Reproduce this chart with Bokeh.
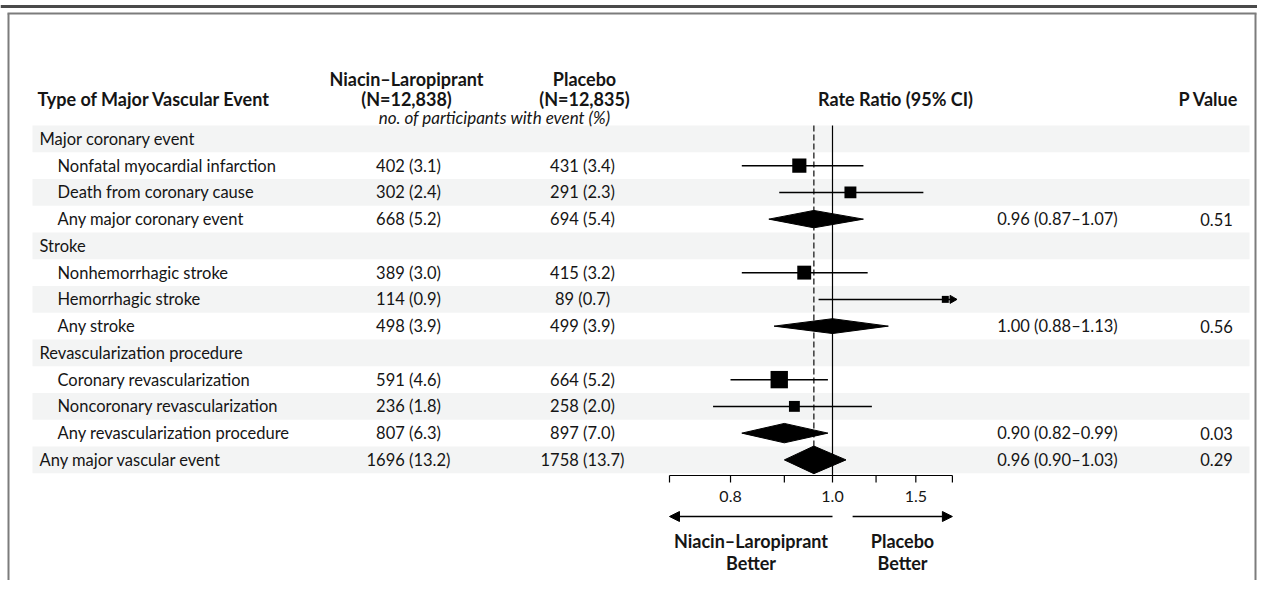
import math
from bokeh.plotting import figure
from bokeh.models import Range1d, LogScale, Arrow, NormalHead
from bokeh.core.properties import value
from bokeh.embed import file_html
from bokeh.resources import INLINE

# ---------------- data ----------------
labels = ["Major coronary event", "Nonfatal myocardial infarction", "Death from coronary cause",
          "Any major coronary event", "Stroke", "Nonhemorrhagic stroke", "Hemorrhagic stroke",
          "Any stroke", "Revascularization procedure", "Coronary revascularization",
          "Noncoronary revascularization", "Any revascularization procedure", "Any major vascular event"]
indent = [0, 1, 1, 1, 0, 1, 1, 1, 0, 1, 1, 1, 0]
niacin_n = [None, 402, 302, 668, None, 389, 114, 498, None, 591, 236, 807, 1696]
niacin_pct = [None, 3.1, 2.4, 5.2, None, 3.0, 0.9, 3.9, None, 4.6, 1.8, 6.3, 13.2]
placebo_n = [None, 431, 291, 694, None, 415, 89, 499, None, 664, 258, 897, 1758]
placebo_pct = [None, 3.4, 2.3, 5.4, None, 3.2, 0.7, 3.9, None, 5.2, 2.0, 7.0, 13.7]
rate_ratio = [None, 0.93, 1.04, 0.96, None, 0.94, 1.28, 1.00, None, 0.89, 0.92, 0.90, 0.96]
ci_low = [None, 0.82, 0.89, 0.87, None, 0.82, 0.97, 0.88, None, 0.80, 0.77, 0.82, 0.90]
ci_high = [None, 1.07, 1.22, 1.07, None, 1.08, 1.69, 1.13, None, 0.99, 1.09, 0.99, 1.03]
is_summary = [False, False, False, True, False, False, False, True, False, False, False, True, True]
p_values = ["", "", "", "0.51", "", "", "", "0.56", "", "", "", "0.03", "0.29"]
overall_rr = 0.96
axis_ticks = [0.7, 0.8, 0.9, 1.0, 1.1, 1.2, 1.3]
axis_tick_labels = ["", "0.8", "", "1.0", "", "1.5", ""]
col_headers = ["Niacin\u2013Laropiprant", "Placebo"]
col_n = ["(N=12,838)", "(N=12,835)"]

# ---------------- layout constants (screen pixels) ----------------
W, H = 1257, 580
ROW_TOP, ROW_H = 125, 26.75
ONE_X, PX_PER_LN = 832, 457.0
FONT = "Lato"
FS = "16.5px"
FSB = "18px"
INK = "#151515"

p = figure(width=W, height=H, x_range=Range1d(0, W), y_range=Range1d(H, 0),
           output_backend="svg", toolbar_location=None, min_border=0,
           x_axis_location=None, y_axis_location=None)
p.grid.visible = False
p.outline_line_color = None
p.background_fill_color = "white"
p.extra_x_ranges = {"rr": Range1d(start=math.exp((0 - ONE_X) / PX_PER_LN),
                                  end=math.exp((W - ONE_X) / PX_PER_LN))}
p.extra_x_scales = {"rr": LogScale()}

n = len(labels)
yc = [ROW_TOP + (i + 0.5) * ROW_H for i in range(n)]

# frame decorations
p.segment(x0=[0], y0=[6], x1=[W], y1=[6], line_color="#4a4a4a", line_width=3)
p.segment(x0=[8, 7, W - 2], y0=[13, 13, 13], x1=[8, W - 1, W - 2], y1=[H, 13, H],
          line_color="#7c7c7c", line_width=2)

# stripes
ev = [i for i in range(n) if i % 2 == 0]
p.quad(left=32, right=1249, top=[ROW_TOP + i * ROW_H for i in ev],
       bottom=[ROW_TOP + (i + 1) * ROW_H for i in ev], fill_color="#f3f4f4", line_color=None)

# reference lines
p.segment(x0=[1.0], x1=[1.0], y0=[ROW_TOP], y1=[475], line_color="black", line_width=1.2,
          x_range_name="rr")
p.segment(x0=[overall_rr], x1=[overall_rr], y0=[ROW_TOP], y1=[ROW_TOP + n * ROW_H],
          line_color="#3a3a3a", line_width=1.5, line_dash="6 3", x_range_name="rr")

# CIs and boxes (CIs beyond the axis end are clipped and get an arrow head)
ax_max = max(axis_ticks)
ax_min = min(axis_ticks)
bi = [i for i in range(n) if rate_ratio[i] is not None and not is_summary[i]]
p.segment(x0=[ci_low[i] for i in bi], x1=[min(ci_high[i], ax_max) for i in bi],
          y0=[yc[i] for i in bi], y1=[yc[i] for i in bi], line_color="black", line_width=1.5,
          x_range_name="rr")
p.scatter(x=[rate_ratio[i] for i in bi], y=[yc[i] for i in bi], marker="square",
          size=[0.49 * math.sqrt(niacin_n[i] + placebo_n[i]) for i in bi],
          fill_color="black", line_color=None, x_range_name="rr")
clipped = [i for i in bi if ci_high[i] > ax_max]
p.scatter(x=[ax_max] * len(clipped), y=[yc[i] for i in clipped], marker="triangle",
          angle=-math.pi / 2, size=8, fill_color="black", line_color="black", x_range_name="rr")

# diamonds
di = [i for i in range(n) if is_summary[i]]
xs, ys = [], []
for i in di:
    h = 0.47 * math.sqrt(niacin_n[i] + placebo_n[i])
    xs.append([ci_low[i], rate_ratio[i], ci_high[i], rate_ratio[i]])
    ys.append([yc[i], yc[i] - h / 2, yc[i], yc[i] + h / 2])
p.patches(xs=xs, ys=ys, fill_color="black", line_color="black", x_range_name="rr")

# axis
p.segment(x0=[ax_min], x1=[ax_max], y0=[475], y1=[475], line_color="black", line_width=1.2,
          x_range_name="rr")
p.segment(x0=axis_ticks, x1=axis_ticks, y0=[475] * len(axis_ticks), y1=[482] * len(axis_ticks),
          line_color="black", line_width=1.2, x_range_name="rr")
p.text(x=axis_ticks, y=[496] * len(axis_ticks), text=axis_tick_labels, text_align="center",
       text_baseline="middle", text_font=value(FONT), text_font_size="16px", text_color=INK,
       x_range_name="rr")

# direction arrows
right_start = 1.045
p.add_layout(Arrow(end=NormalHead(size=10, fill_color="black", line_color="black"),
                   x_start=1.0, y_start=516, x_end=ax_min, y_end=516, line_width=1.5,
                   x_range_name="rr"))
p.add_layout(Arrow(end=NormalHead(size=10, fill_color="black", line_color="black"),
                   x_start=right_start, y_start=516, x_end=ax_max, y_end=516, line_width=1.5,
                   x_range_name="rr"))
lc = math.sqrt(ax_min * 1.0)
rc = math.sqrt(right_start * ax_max)
p.text(x=[lc, lc, rc, rc], y=[540, 562, 540, 562],
       text=["Niacin\u2013Laropiprant", "Better", "Placebo", "Better"],
       text_align="center", text_baseline="middle", text_font=value(FONT), text_font_style="bold",
       text_font_size=FSB, text_color=INK, x_range_name="rr")

# header
bold = dict(text_font=value(FONT), text_font_style="bold", text_font_size=FSB, text_color=INK,
            text_baseline="middle")
p.text(x=[37], y=[98], text=["Type of Major Vascular Event"], text_align="left", **bold)
p.text(x=[406, 406, 584, 584], y=[78, 98, 78, 98],
       text=[col_headers[0], col_n[0], col_headers[1], col_n[1]], text_align="center", **bold)
p.text(x=[895, 1208], y=[98, 98], text=["Rate Ratio (95% CI)", "P Value"], text_align="center", **bold)
p.text(x=[494], y=[117], text=["no. of participants with event (%)"], text_align="center",
       text_font=value(FONT), text_font_style="italic", text_font_size="17px", text_color=INK,
       text_baseline="middle")

# rows
reg = dict(text_font=value(FONT), text_font_size=FS, text_color=INK, text_baseline="middle")
p.text(x=[39 + 18 * k for k in indent], y=yc, text=labels, text_align="left", **reg)
vi = [i for i in range(n) if niacin_n[i] is not None]
p.text(x=[408] * len(vi), y=[yc[i] for i in vi],
       text=[f"{niacin_n[i]} ({niacin_pct[i]:.1f})" for i in vi], text_align="center", **reg)
p.text(x=[582] * len(vi), y=[yc[i] for i in vi],
       text=[f"{placebo_n[i]} ({placebo_pct[i]:.1f})" for i in vi], text_align="center", **reg)
p.text(x=[1057] * len(di), y=[yc[i] for i in di],
       text=[f"{rate_ratio[i]:.2f} ({ci_low[i]:.2f}\u2013{ci_high[i]:.2f})" for i in di],
       text_align="center", **reg)
p.text(x=[1216] * len(di), y=[yc[i] for i in di], text=[p_values[i] for i in di],
       text_align="center", **reg)

open("out.html", "w").write(file_html(p, INLINE))
